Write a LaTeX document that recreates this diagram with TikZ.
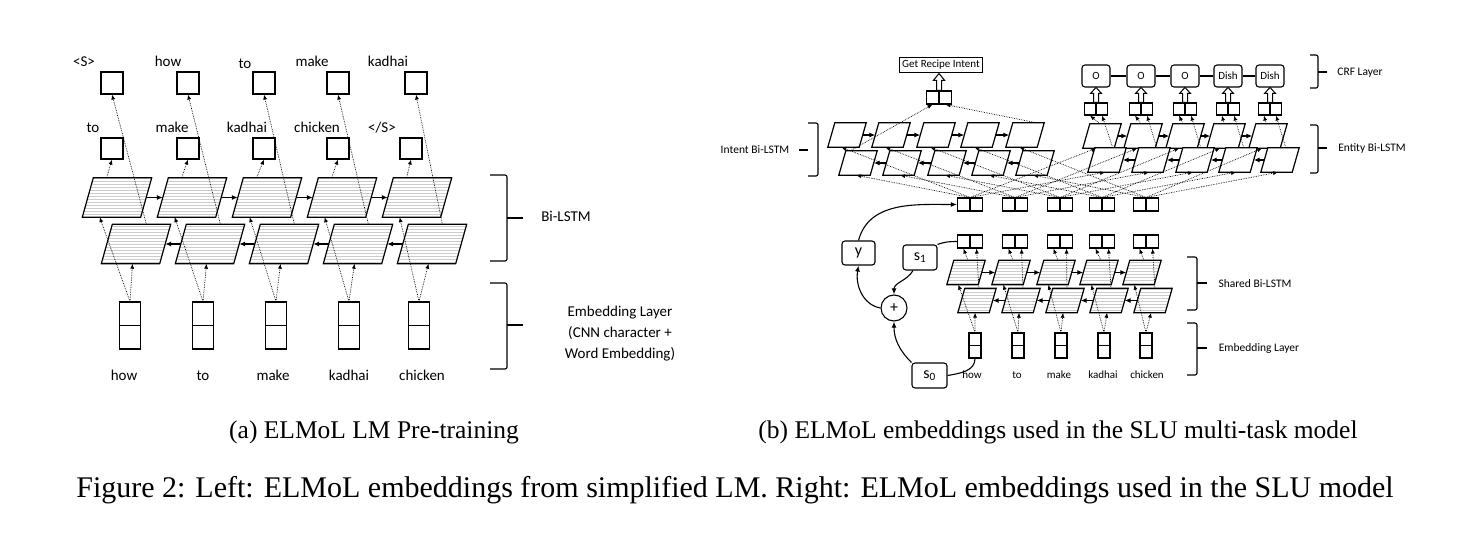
\documentclass[tikz,border=0pt]{standalone}
\usepackage{fontspec}
\setmainfont{Liberation Serif}
\newfontfamily\calib{Carlito}
\usetikzlibrary{arrows,arrows.meta,calc,patterns}

\tikzset{hollow/.pic={\draw[line width=1pt,fill=white] (-2.5,0)--(-2.5,0.6*#1)--(-5.5,0.6*#1)--(0,#1)--(5.5,0.6*#1)--(2.5,0.6*#1)--(2.5,0)--cycle;}}

% parallelogram over the box of a node: name, slant, style
\newcommand\para[3]{\draw[line width=1.2pt,#3] (#1.south west) -- ($(#1.north west)+(#2,0)$) -- (#1.north east) -- ($(#1.south east)-(#2,0)$) -- cycle;}

\begin{document}
\begin{tikzpicture}[>=latex,x=1pt,y=1pt,
  bigcell/.style={inner sep=0pt,minimum width=69pt,minimum height=39pt},
  smallcell/.style={inner sep=0pt,minimum width=38pt,minimum height=24pt},
  hatch/.style={pattern=horizontal lines,pattern color=gray!40},
  box/.style={draw,line width=1.1pt,inner sep=0pt},
  pairbox/.style={box,minimum width=25pt,minimum height=13pt},
  tagbox/.style={box,rounded corners=3pt,minimum width=28pt,minimum height=22pt,font=\calib\fontsize{11}{13}\selectfont},
  word/.style={font=\calib\fontsize{15}{18}\selectfont,text height=10pt,text depth=3pt},
  sword/.style={font=\calib\fontsize{11}{13}\selectfont,text height=7.5pt,text depth=2pt},
  note/.style={font=\calib\fontsize{11.5}{13}\selectfont},
  dots/.style={-{Latex[length=5pt,width=4pt]},densely dotted,line width=0.7pt},
  link/.style={-{Latex[length=6pt,width=5pt]},line width=1.1pt},
  brace/.style={line width=1.1pt,rounded corners=2pt},
  caption/.style={font=\fontsize{25.5}{30}\selectfont},
  figcaption/.style={font=\fontsize{30}{34}\selectfont}
]

\useasboundingbox (0,0) rectangle (1480,-536);

% (a) pre-training
\foreach \i/\x in {1/117,2/192,3/267,4/342,5/417}{
  \node[bigcell] (fw\i) at (\x,-197.5) {};
  \para{fw\i}{11}{hatch}
}
\foreach \i/\x in {1/136,2/210,3/284,4/358,5/432}{
  \node[bigcell] (bw\i) at (\x,-244) {};
  \para{bw\i}{11}{hatch}
}
\foreach \i/\x in {1/112,2/188,3/264,4/338,5/416}
  \node[box,minimum width=22pt,minimum height=22pt] (top\i) at (\x,-83) {};
\foreach \i/\x in {1/112,2/188,3/264,4/338,5/411}
  \node[box,minimum width=22pt,minimum height=21pt] (nxt\i) at (\x,-148.5) {};
\foreach \i/\x in {1/130,2/203,3/276,4/349,5/419}{
  \node[box,minimum width=21pt,minimum height=47pt] (emb\i) at (\x,-325.5) {};
  \draw[line width=1.1pt] (emb\i.west) -- (emb\i.east);
}

\foreach \x/\y/\t [count=\n] in {84/63/{<S>},168/63/how,245/65/to,312/63/make,388/63/kadhai,
    93/129/to,172/129/make,247/129/kadhai,317/129/chicken,382/129/{</S>},
    124/377/how,203/377/to,273/377/make,349/377/kadhai,422/377/chicken}
  \node[word] (lw\n) at (\x,-\y) {\t};

\foreach \i [evaluate=\i as \j using int(\i+1)] in {1,...,4}{
  \draw[link] ($(fw\i.east)+(-5.5,0)$) -- ($(fw\j.west)+(5.5,0)$);
  \draw[link] ($(bw\j.west)+(5.5,0)$) -- ($(bw\i.east)+(-5.5,0)$);
}
\foreach \i in {1,...,5}{
  \draw[dots] (emb\i.north) -- ($(fw\i.south west)!0.25!(fw\i.south east)$);
  \draw[dots] (emb\i.north) -- ($(bw\i.south west)!0.45!(bw\i.south east)$);
  \draw[dots] ($(fw\i.north west)!0.35!(fw\i.north east)$) -- (nxt\i.south);
  \draw[dots] ($(bw\i.north west)!0.65!(bw\i.north east)$) -- (top\i.south);
}

\draw[brace] (490,-175) -- (507,-175) -- (507,-261) -- (490,-261);
\draw[brace] (507,-218) -- (523,-218);
\node[word] (bilstm) at (566,-218) {Bi-LSTM};
\draw[brace] (490,-283) -- (507,-283) -- (507,-369) -- (490,-369);
\draw[brace] (507,-325) -- (523,-325);
\node[font=\calib\fontsize{15}{21}\selectfont,align=center] (emblayer) at (620,-334) {Embedding Layer\\(CNN character +\\Word Embedding)};

% (b) SLU model
\foreach \i/\x in {1/847,2/891,3/936,4/980,5/1025}{
  \node[smallcell] (ifw\i) at (\x,-135) {};
  \para{ifw\i}{7}{fill=white}
}
\foreach \i/\x in {1/858,2/902,3/947,4/991,5/1035}{
  \node[smallcell] (ibw\i) at (\x,-163) {};
  \para{ibw\i}{7}{fill=white}
}
\foreach \i/\x in {1/1102,2/1143,3/1185,4/1226,5/1268}{
  \node[smallcell] (efw\i) at (\x,-136) {};
  \para{efw\i}{7}{fill=white}
}
\foreach \i/\x in {1/1107,2/1151,3/1195,4/1238,5/1280}{
  \node[smallcell] (ebw\i) at (\x,-160) {};
  \para{ebw\i}{7}{fill=white}
}
\foreach \i/\x in {1/966,2/1011,3/1056,4/1099,5/1142}{
  \node[smallcell] (sfw\i) at (\x,-272.5) {};
  \para{sfw\i}{7}{hatch}
}
\foreach \i/\x in {1/977,2/1021,3/1065,4/1109,5/1153}{
  \node[smallcell] (sbw\i) at (\x,-300.5) {};
  \para{sbw\i}{7}{hatch}
}

\node[box,inner sep=2.5pt,font=\calib\fontsize{11}{13}\selectfont] (goal) at (941,-65) {Get Recipe Intent};
\node[pairbox] (idb) at (939,-97.5) {};
\draw[line width=1.1pt] (idb.north) -- (idb.south);
\pic at (idb.north) {hollow=17};

\foreach \i/\x/\t in {1/1096/O,2/1141/O,3/1185/O,4/1228/Dish,5/1270/Dish}{
  \node[tagbox] (crf\i) at (\x,-76) {\t};
  \node[pairbox,minimum width=23pt,minimum height=12pt] (edb\i) at (\x,-109) {};
  \draw[line width=1.1pt] (edb\i.north) -- (edb\i.south);
  \pic at (edb\i.north) {hollow=15};
}
\foreach \i/\x in {1/970,2/1015,3/1060,4/1102,5/1146}{
  \node[pairbox] (elm\i) at (\x,-204.5) {};
  \draw[line width=1.1pt] (elm\i.north) -- (elm\i.south);
  \node[pairbox] (shd\i) at (\x,-241.5) {};
  \draw[line width=1.1pt] (shd\i.north) -- (shd\i.south);
}
\foreach \i/\x in {1/975,2/1018,3/1061,4/1104,5/1146}{
  \node[box,minimum width=12pt,minimum height=25pt] (se\i) at (\x,-345.5) {};
  \draw[line width=1.1pt] (se\i.west) -- (se\i.east);
}
\foreach \x/\t [count=\n] in {972/how,1017/to,1059/make,1103/kadhai,1147/chicken}
  \node[sword] (sw\n) at (\x,-376) {\t};

\node[box,rounded corners=3pt,minimum width=33pt,minimum height=24pt,font=\calib\fontsize{16}{18}\selectfont] (ybox) at (858.5,-253) {y};
\node[box,rounded corners=3pt,minimum width=34pt,minimum height=25pt,font=\calib\fontsize{16}{18}\selectfont] (s1) at (920,-257.5) {s\textsubscript{1}};
\node[box,rounded corners=3pt,minimum width=35pt,minimum height=25pt,font=\calib\fontsize{16}{18}\selectfont] (s0) at (929.5,-375.5) {s\textsubscript{0}};
\node[box,circle,minimum size=26pt,font=\calib\fontsize{16}{18}\selectfont] (plus) at (894,-308) {+};

\foreach \i [evaluate=\i as \j using int(\i+1)] in {1,...,4}{
  \draw[link] ($(ifw\i.east)+(-3.5,0)$) -- ($(ifw\j.west)+(3.5,0)$);
  \draw[link] ($(ibw\j.west)+(3.5,0)$) -- ($(ibw\i.east)+(-3.5,0)$);
  \draw[link] ($(efw\i.east)+(-3.5,0)$) -- ($(efw\j.west)+(3.5,0)$);
  \draw[link] ($(ebw\j.west)+(3.5,0)$) -- ($(ebw\i.east)+(-3.5,0)$);
  \draw[link] ($(sfw\i.east)+(-3.5,0)$) -- ($(sfw\j.west)+(3.5,0)$);
  \draw[link] ($(sbw\j.west)+(3.5,0)$) -- ($(sbw\i.east)+(-3.5,0)$);
  \draw[line width=1.1pt] (crf\i.east) -- (crf\j.west);
}
\foreach \i in {1,...,5}{
  \draw[dots] (se\i.north) -- ($(sfw\i.south west)!0.3!(sfw\i.south east)$);
  \draw[dots] (se\i.north) -- ($(sbw\i.south west)!0.45!(sbw\i.south east)$);
  \draw[dots] ($(sfw\i.north west)!0.55!(sfw\i.north east)$) -- ($(shd\i.south)!0.5!(shd\i.south west)$);
  \draw[dots] ($(sbw\i.north west)!0.55!(sbw\i.north east)$) -- ($(shd\i.south)!0.5!(shd\i.south east)$);
  \draw[dots] (elm\i.north) -- ($(ifw\i.south west)!0.35!(ifw\i.south east)$);
  \draw[dots] (elm\i.north) -- ($(ibw\i.south west)!0.45!(ibw\i.south east)$);
  \draw[dots] (elm\i.north) -- ($(efw\i.south west)!0.35!(efw\i.south east)$);
  \draw[dots] (elm\i.north) -- ($(ebw\i.south west)!0.45!(ebw\i.south east)$);
  \draw[dots] ($(efw\i.north west)!0.45!(efw\i.north east)$) -- ($(edb\i.south)!0.5!(edb\i.south west)$);
  \draw[dots] ($(ebw\i.north west)!0.65!(ebw\i.north east)$) -- ($(edb\i.south)!0.5!(edb\i.south east)$);
}
\draw[dots] ($(ibw1.north west)!0.3!(ibw1.north east)$) -- ($(idb.south)!0.5!(idb.south west)$);
\draw[dots] ($(ifw5.north west)!0.8!(ifw5.north east)$) -- ($(idb.south)!0.5!(idb.south east)$);

\draw[link] (s0.north west) to[out=135,in=-90] (plus.south);
\draw[link] ($(s1.south west)!0.3!(s1.south east)$) to[out=-120,in=90] (plus.north);
\draw[link] (plus.west) to[out=170,in=-100] (ybox.south);
\draw[link] (ybox.north) to[out=75,in=180] (elm1.west);
\draw[line width=1.1pt] (s1.north east) to[out=20,in=180] (shd1.west);
\draw[line width=1.1pt] (s0.east) to[out=10,in=-90] (se1.south);

\draw[brace] (808,-123) -- (818,-123) -- (818,-176) -- (808,-176);
\draw[brace] (808,-150) -- (799,-150);
\node[note] (intentlbl) at (755,-150) {Intent Bi-LSTM};
\draw[brace] (1310,-55) -- (1318,-55) -- (1318,-88) -- (1310,-88);
\draw[brace] (1318,-72) -- (1327,-72);
\node[note] (crflbl) at (1360,-73) {CRF Layer};
\draw[brace] (1310,-125) -- (1318,-125) -- (1318,-173) -- (1310,-173);
\draw[brace] (1318,-148) -- (1327,-148);
\node[note] (entitylbl) at (1372,-148) {Entity Bi-LSTM};
\draw[brace] (1187,-257) -- (1197,-257) -- (1197,-310) -- (1187,-310);
\draw[brace] (1197,-283) -- (1207,-283);
\node[note] (sharedlbl) at (1255,-284) {Shared Bi-LSTM};
\draw[brace] (1187,-323) -- (1197,-323) -- (1197,-375) -- (1187,-375);
\draw[brace] (1197,-348) -- (1207,-348);
\node[note] (semblbl) at (1259,-348) {Embedding Layer};

% captions
\node[caption] (capa) at (374,-432) {(a) ELMoL LM Pre-training};
\node[caption] (capb) at (1058,-432) {(b) ELMoL embeddings used in the SLU multi-task model};
\node[figcaption] (capfig) at (735,-490) {Figure 2: Left: ELMoL embeddings from simplified LM. Right: ELMoL embeddings used in the SLU model};

\end{tikzpicture}
\end{document}
